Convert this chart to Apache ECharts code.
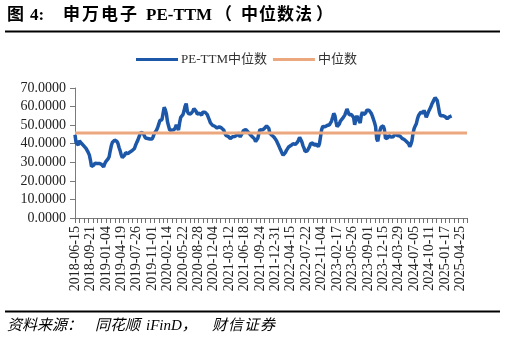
<!DOCTYPE html>
<html>
<head>
<meta charset="utf-8">
<script src="https://cdn.jsdelivr.net/npm/echarts@6/dist/echarts.min.js"></script>
<style>
  html, body { margin: 0; padding: 0; background: #ffffff; }
  #chart { width: 505px; height: 343px; }
</style>
</head>
<body>
<div id="chart"></div>
<script>
// Tick labels shown on the x axis (one every 14 weekly points)
const tickLabels = [
  '2018-06-15','2018-09-21','2019-01-04','2019-04-19','2019-07-26','2019-11-01',
  '2020-02-14','2020-05-22','2020-08-28','2020-12-04','2021-03-12','2021-06-18',
  '2021-09-24','2021-12-31','2022-04-15','2022-07-22','2022-11-04','2023-02-17',
  '2023-05-26','2023-09-01','2023-12-15','2024-03-29','2024-07-05','2024-10-11',
  '2025-01-17','2025-04-25'
];
const pointsPerLabel = 14;
const pointsAfterLastLabel = 7;
const tickEvery = 4;

// Weekly PE-TTM (median method)
const peTTM = [
  44.8,40.5,39.6,39.3,41.6,41.0,40.1,39.4,38.8,38.0,37.5,36.4,35.3,34.0,
  31.2,27.8,27.6,28.4,29.5,30.2,29.3,29.8,29.4,28.4,28.9,28.6,27.5,29.2,
  30.4,31.0,31.8,33.0,36.2,39.0,40.8,41.5,41.9,41.6,41.3,40.2,38.0,36.2,
  34.0,32.6,32.8,33.8,35.2,35.0,34.6,35.3,35.6,35.2,36.3,36.8,37.4,39.2,
  40.6,41.8,43.4,45.0,46.1,46.7,45.6,44.2,43.1,43.6,42.8,41.8,42.5,42.7,
  42.6,43.8,45.5,46.4,47.3,48.6,50.4,52.4,52.8,53.0,56.4,59.6,58.3,56.0,
  51.8,49.5,47.3,47.0,47.4,47.1,47.5,48.6,50.2,49.8,47.4,51.2,54.2,55.0,
  55.6,57.6,60.2,61.6,57.5,56.3,57.2,56.0,56.8,57.5,58.9,58.4,57.4,56.0,
  55.4,56.4,56.5,55.4,57.0,57.2,57.0,56.3,55.8,55.2,52.8,51.2,50.4,49.9,
  49.1,49.4,49.9,48.4,48.6,49.1,48.2,48.5,49.0,47.4,45.8,44.5,44.5,44.0,
  43.6,42.8,43.1,43.7,44.4,43.9,44.1,44.6,46.0,45.2,43.7,44.6,45.8,47.1,
  48.0,47.6,47.1,46.4,45.6,45.0,44.4,43.8,43.4,42.6,41.2,41.3,42.9,45.6,
  47.6,48.0,47.3,47.6,48.2,48.9,49.6,49.4,48.2,45.6,44.8,44.5,43.8,43.3,
  42.8,41.6,40.3,39.0,37.6,36.3,34.9,33.8,34.2,35.2,36.4,37.1,38.2,39.1,
  39.0,39.5,40.0,39.2,39.6,40.2,40.8,42.0,43.4,43.2,41.0,39.0,37.6,35.8,
  35.6,36.2,37.0,38.4,40.0,40.6,40.4,39.2,39.8,39.8,39.2,38.4,40.0,43.8,
  47.6,49.3,49.6,49.1,49.5,49.8,49.1,50.2,51.2,52.2,54.2,56.3,55.2,51.8,
  49.2,49.4,50.6,52.2,53.2,53.6,54.2,55.4,56.4,58.7,57.2,55.6,55.3,55.7,
  56.1,54.2,50.2,53.0,55.0,54.4,52.4,51.2,55.2,57.0,55.6,55.8,56.6,58.0,
  57.2,58.0,58.8,56.4,55.0,54.2,51.4,49.2,42.6,41.4,45.0,47.2,49.0,49.6,
  49.6,47.6,42.8,41.9,43.2,44.5,44.0,43.6,44.4,43.8,44.6,45.4,44.7,44.4,
  43.6,44.2,44.3,42.9,43.4,42.3,41.8,41.2,40.6,40.0,38.4,39.6,41.6,45.6,
  48.2,49.6,50.8,53.4,55.2,56.2,57.0,56.6,56.4,58.0,56.2,54.2,55.2,57.2,
  58.0,59.6,61.2,62.4,63.6,64.8,65.0,63.2,60.0,56.6,55.0,54.5,55.1,55.0,
  54.6,53.9,53.4,54.2,54.5,54.8,55.0
];
// Median of the whole period (horizontal reference line)
const medianPE = 45.8;

const seriesNames = ['PE-TTM中位数', '中位数'];
const yTicks = { min: 0, max: 70, interval: 10 };

// Build weekly category dates from the tick labels
function addDays(s, d) {
  const [y, m, dd] = s.split('-').map(Number);
  const t = new Date(Date.UTC(y, m - 1, dd) + d * 86400000);
  return t.toISOString().slice(0, 10);
}
const categories = [];
tickLabels.forEach((lab, k) => {
  const n = k < tickLabels.length - 1 ? pointsPerLabel : pointsAfterLastLabel;
  for (let j = 0; j < n; j++) categories.push(j === 0 ? lab : addDays(lab, 7 * j));
});
const medianSeries = categories.map(() => medianPE);
const tickCats = categories.filter((c, i) => i % tickEvery === 0);

const serif = '"Liberation Serif", "Noto Sans CJK SC", serif';
const BLUE = '#1c57a8';
const ORANGE = '#eba87f';
const AXIS = '#7a7a7a';

const chart = echarts.init(document.getElementById('chart'), null, { renderer: 'canvas' });

const titleParts = [
  { t: '图', x: 7 }, { t: '4:', x: 30 },
  { t: '申', x: 63 }, { t: '万', x: 82 }, { t: '电', x: 101 }, { t: '子', x: 120 },
  { t: 'PE-TTM', x: 146 },
  { t: '（', x: 215 }, { t: '中', x: 241 }, { t: '位', x: 259 }, { t: '数', x: 277 }, { t: '法', x: 295 },
  { t: '）', x: 316 }
];
const sourceParts = [
  { t: '资料来源：', x: 7 }, { t: '同花顺', x: 95 }, { t: 'iFinD，', x: 146 },
  { t: '财', x: 212 }, { t: '信', x: 228 }, { t: '证', x: 244 }, { t: '券', x: 260 }
];

const graphics = titleParts.map(p => ({
  type: 'text', left: p.x, top: 7,
  style: { text: p.t, font: 'bold 17px ' + serif, fill: '#000' }
}));
sourceParts.forEach(p => graphics.push({
  type: 'text', left: p.x, top: 319,
  style: { text: p.t, font: 'italic 15px ' + serif, fill: '#000' }
}));
graphics.push(
  { type: 'rect', shape: { x: 5, y: 30.5, width: 495, height: 2 }, style: { fill: '#000' } },
  { type: 'rect', shape: { x: 5, y: 310.5, width: 495, height: 2 }, style: { fill: '#000' } }
);

chart.setOption({
  animation: false,
  backgroundColor: '#ffffff',
  legend: {
    data: seriesNames,
    left: 131, top: 48,
    itemWidth: 42, itemHeight: 3, itemGap: 6,
    icon: 'rect',
    textStyle: { fontFamily: serif, fontSize: 13, color: '#333', padding: [0, 0, 0, -2] }
  },
  grid: { left: 75, right: 38, top: 88, bottom: 125, containLabel: false },
  xAxis: {
    type: 'category',
    data: categories,
    boundaryGap: false,
    axisLine: { show: true, lineStyle: { color: AXIS, width: 1 } },
    axisTick: { show: false },
    axisLabel: {
      interval: pointsPerLabel - 1, rotate: 90, margin: 8,
      fontFamily: serif, fontSize: 14, color: '#222'
    },
    splitLine: { show: false }
  },
  yAxis: {
    type: 'value',
    min: yTicks.min, max: yTicks.max, interval: yTicks.interval,
    axisLine: { show: true, lineStyle: { color: AXIS, width: 1 } },
    axisTick: { show: true, length: 5, lineStyle: { color: AXIS } },
    axisLabel: {
      margin: 9, fontFamily: serif, fontSize: 14, color: '#222',
      formatter: v => v.toFixed(4)
    },
    splitLine: { show: false }
  },
  series: [
    {
      name: seriesNames[0], type: 'line', data: peTTM,
      showSymbol: false, symbol: 'none',
      lineStyle: { color: BLUE, width: 3.5 }, itemStyle: { color: BLUE }
    },
    {
      name: seriesNames[1], type: 'line', data: medianSeries,
      showSymbol: false, symbol: 'none',
      lineStyle: { color: ORANGE, width: 3 }, itemStyle: { color: ORANGE }
    },
    {
      // x-axis tick marks, placed through the category scale
      name: 'ticks', type: 'custom', clip: false, silent: true, z: 10,
      coordinateSystem: 'cartesian2d',
      data: tickCats.map(c => [c, 0]),
      renderItem: (params, api) => {
        const p = api.coord([api.value(0), 0]);
        const x = Math.round(p[0]) + 0.5;
        return {
          type: 'line',
          shape: { x1: x, y1: p[1], x2: x, y2: p[1] + 5 },
          style: { stroke: '#6e6e6e', lineWidth: 1 }
        };
      }
    }
  ],
  graphic: graphics
});
</script>
</body>
</html>
